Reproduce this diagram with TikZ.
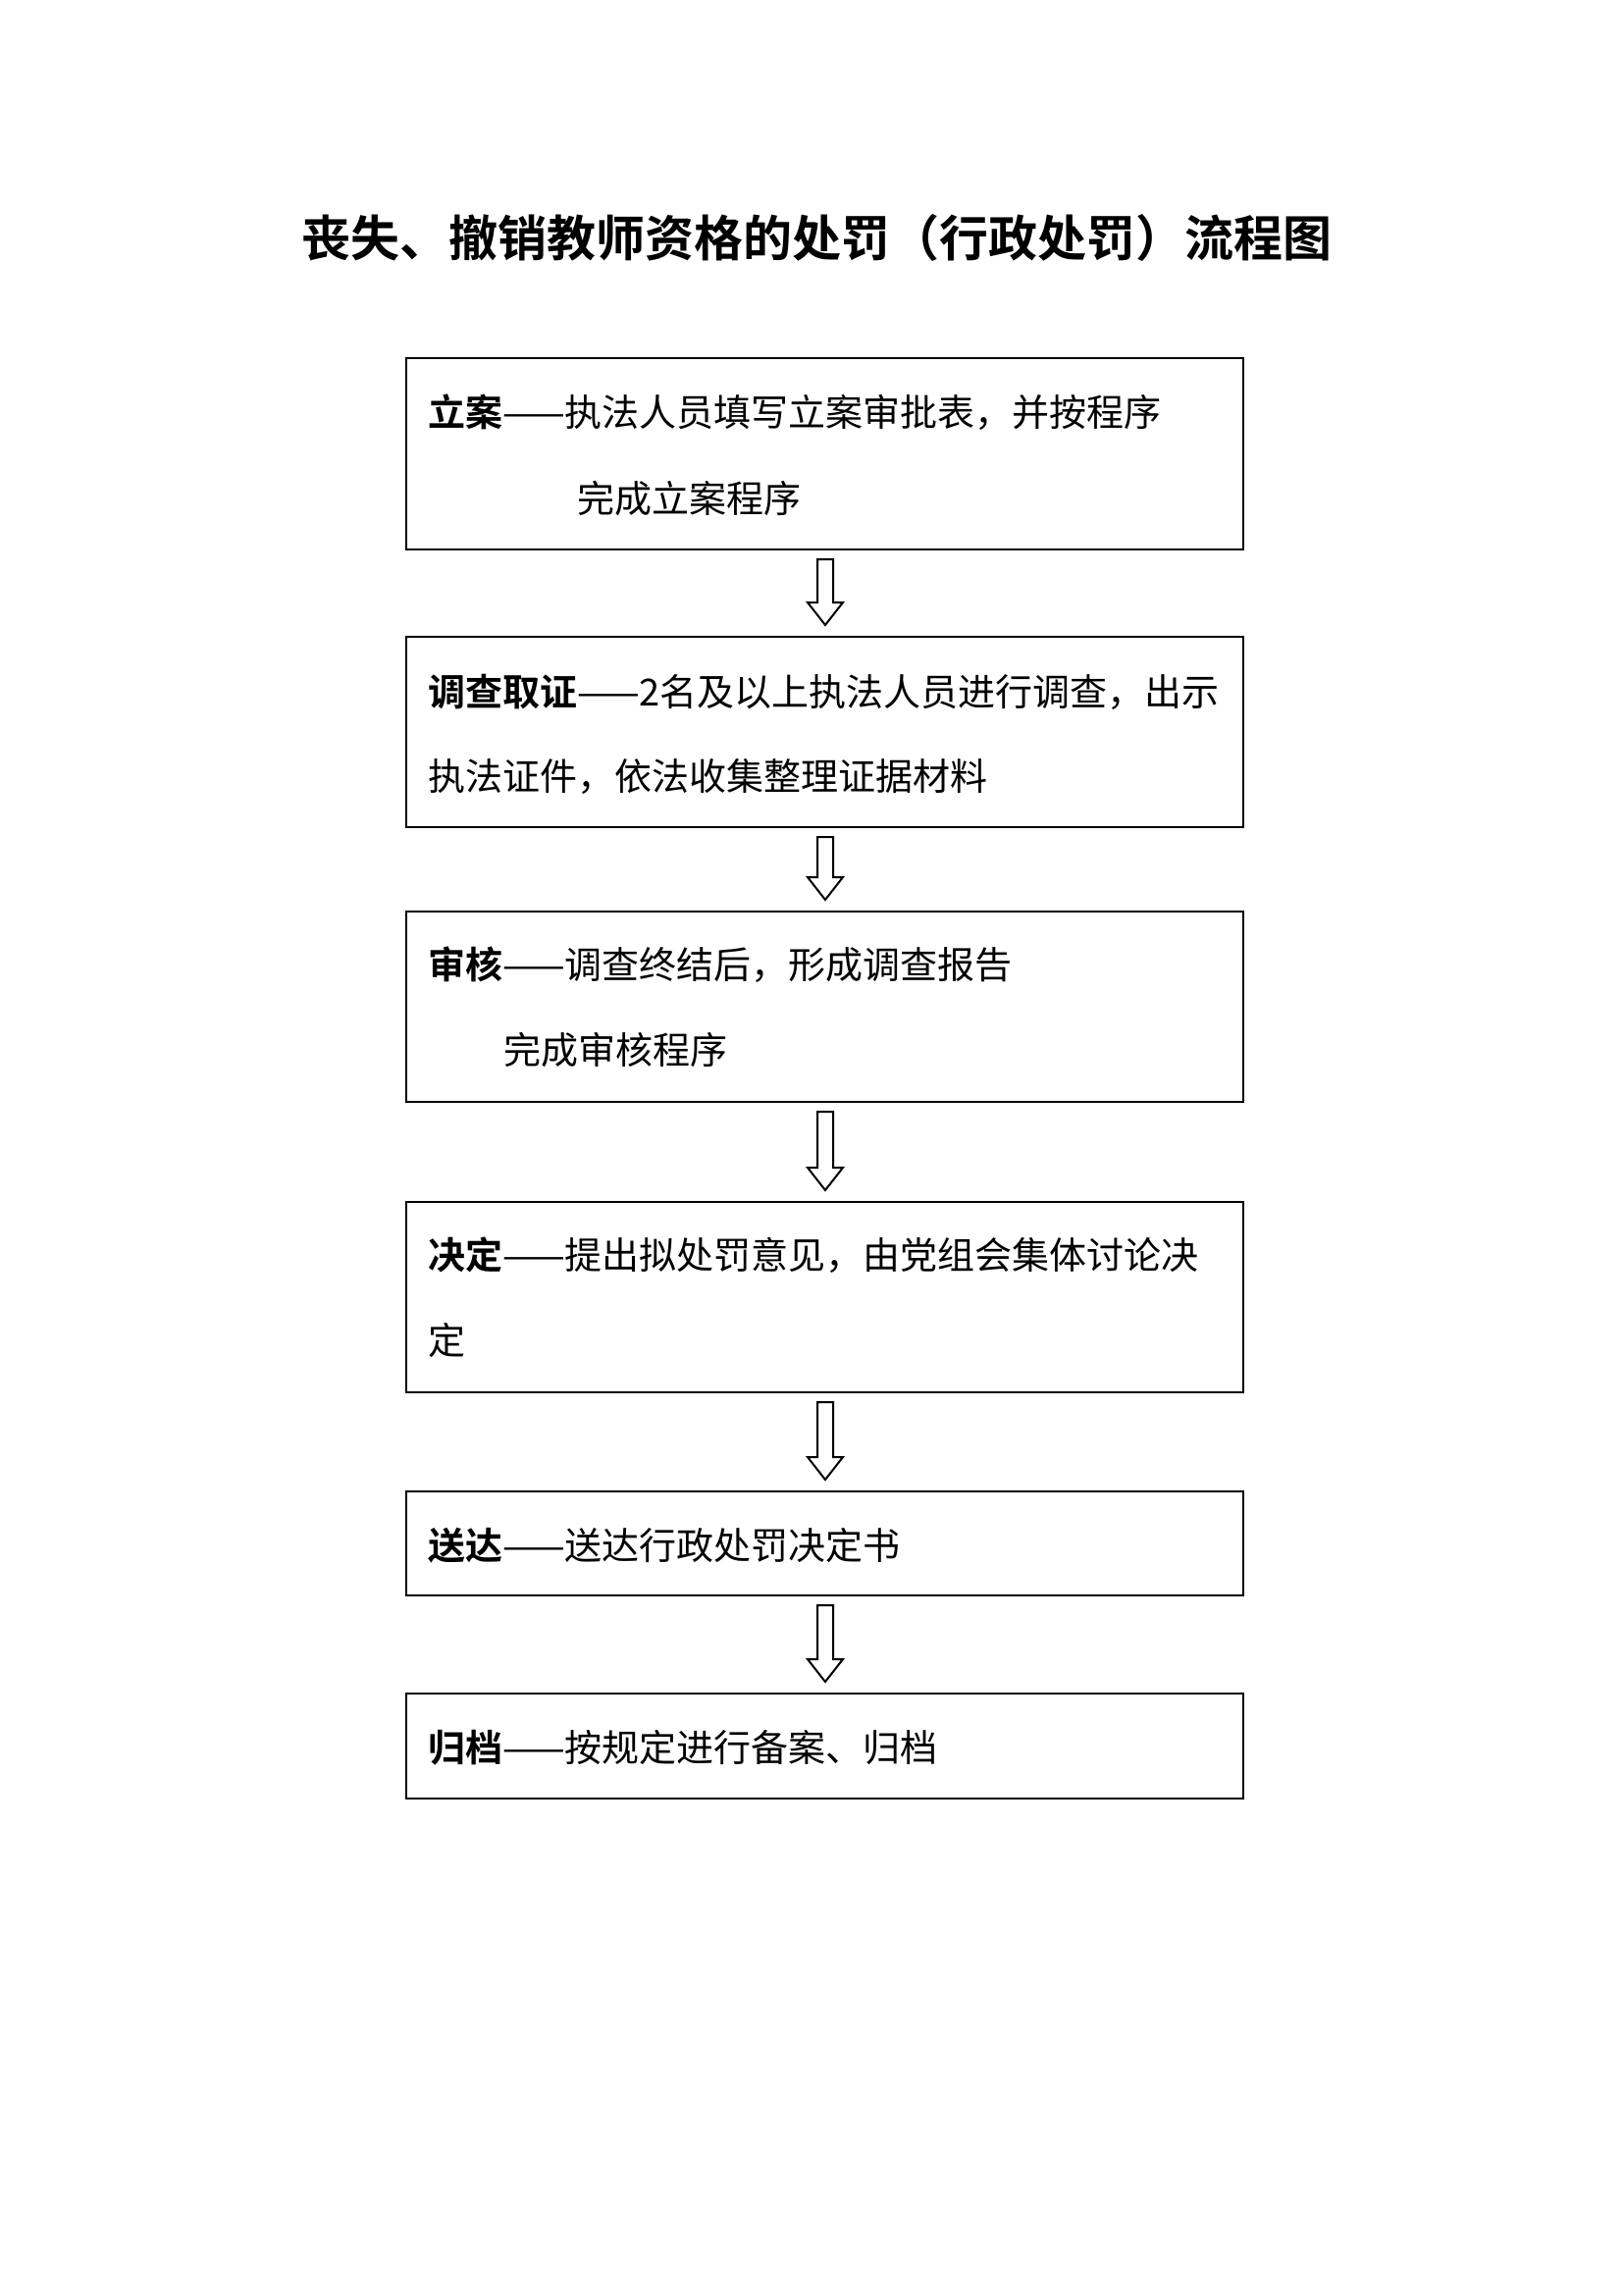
\documentclass[tikz,border=0pt]{standalone}
\usepackage{fontspec}
\newfontfamily\cjk{Noto Sans CJK SC}
\newfontfamily\cjkb{Noto Sans CJK SC Bold}
\usetikzlibrary{calc}
\tikzset{
  box/.style={draw, line width=2pt, minimum width=853pt, anchor=north west, inner sep=0pt},
  txt/.style={anchor=west, inner sep=0pt, font=\cjk\fontsize{38pt}{44pt}\selectfont},
  harr/.style={draw, line width=2pt, fill=white},
}
\newcommand\harrow[2]{%
  \draw[harr] let \p1=(#1.south), \p2=(#2.north) in
    (841pt-8pt,\y1-9pt) -- (841pt+8pt,\y1-9pt) -- (841pt+8pt,\y2+34pt) -- (841pt+18pt,\y2+34pt)
    -- (841pt,\y2+11pt) -- (841pt-18pt,\y2+34pt) -- (841pt-8pt,\y2+34pt) -- cycle;}
\begin{document}
\begin{tikzpicture}[x=1pt,y=-1pt]
\useasboundingbox (0,0) rectangle (1654,2339);
\node[font=\cjkb\fontsize{50pt}{54pt}\selectfont, inner sep=0pt] (title) at (832,242) {丧失、撤销教师资格的处罚（行政处罚）流程图};
\node[box, minimum height=195pt] (b1) at (413,364) {};
\node[box, minimum height=194pt] (b2) at (413,648) {};
\node[box, minimum height=194pt] (b3) at (413,928) {};
\node[box, minimum height=194pt] (b4) at (413,1224) {};
\node[box, minimum height=106pt] (b5) at (413,1519) {};
\node[box, minimum height=107pt] (b6) at (413,1725) {};
\node[txt] (t1a) at (436,420) {{\cjkb 立案}——执法人员填写立案审批表，并按程序};
\node[txt] (t1b) at (588,508) {完成立案程序};
\node[txt] (t2a) at (436,705) {{\cjkb 调查取证}——2名及以上执法人员进行调查，出示};
\node[txt] (t2b) at (436,792) {执法证件，依法收集整理证据材料};
\node[txt] (t3a) at (436,983) {{\cjkb 审核}——调查终结后，形成调查报告};
\node[txt] (t3b) at (513,1070) {完成审核程序};
\node[txt] (t4a) at (436,1279) {{\cjkb 决定}——提出拟处罚意见，由党组会集体讨论决};
\node[txt] (t4b) at (436,1366) {定};
\node[txt] (t5) at (436,1575) {{\cjkb 送达}——送达行政处罚决定书};
\node[txt] (t6) at (436,1781) {{\cjkb 归档}——按规定进行备案、归档};
\harrow{b1}{b2}
\harrow{b2}{b3}
\harrow{b3}{b4}
\harrow{b4}{b5}
\harrow{b5}{b6}
\end{tikzpicture}
\end{document}
